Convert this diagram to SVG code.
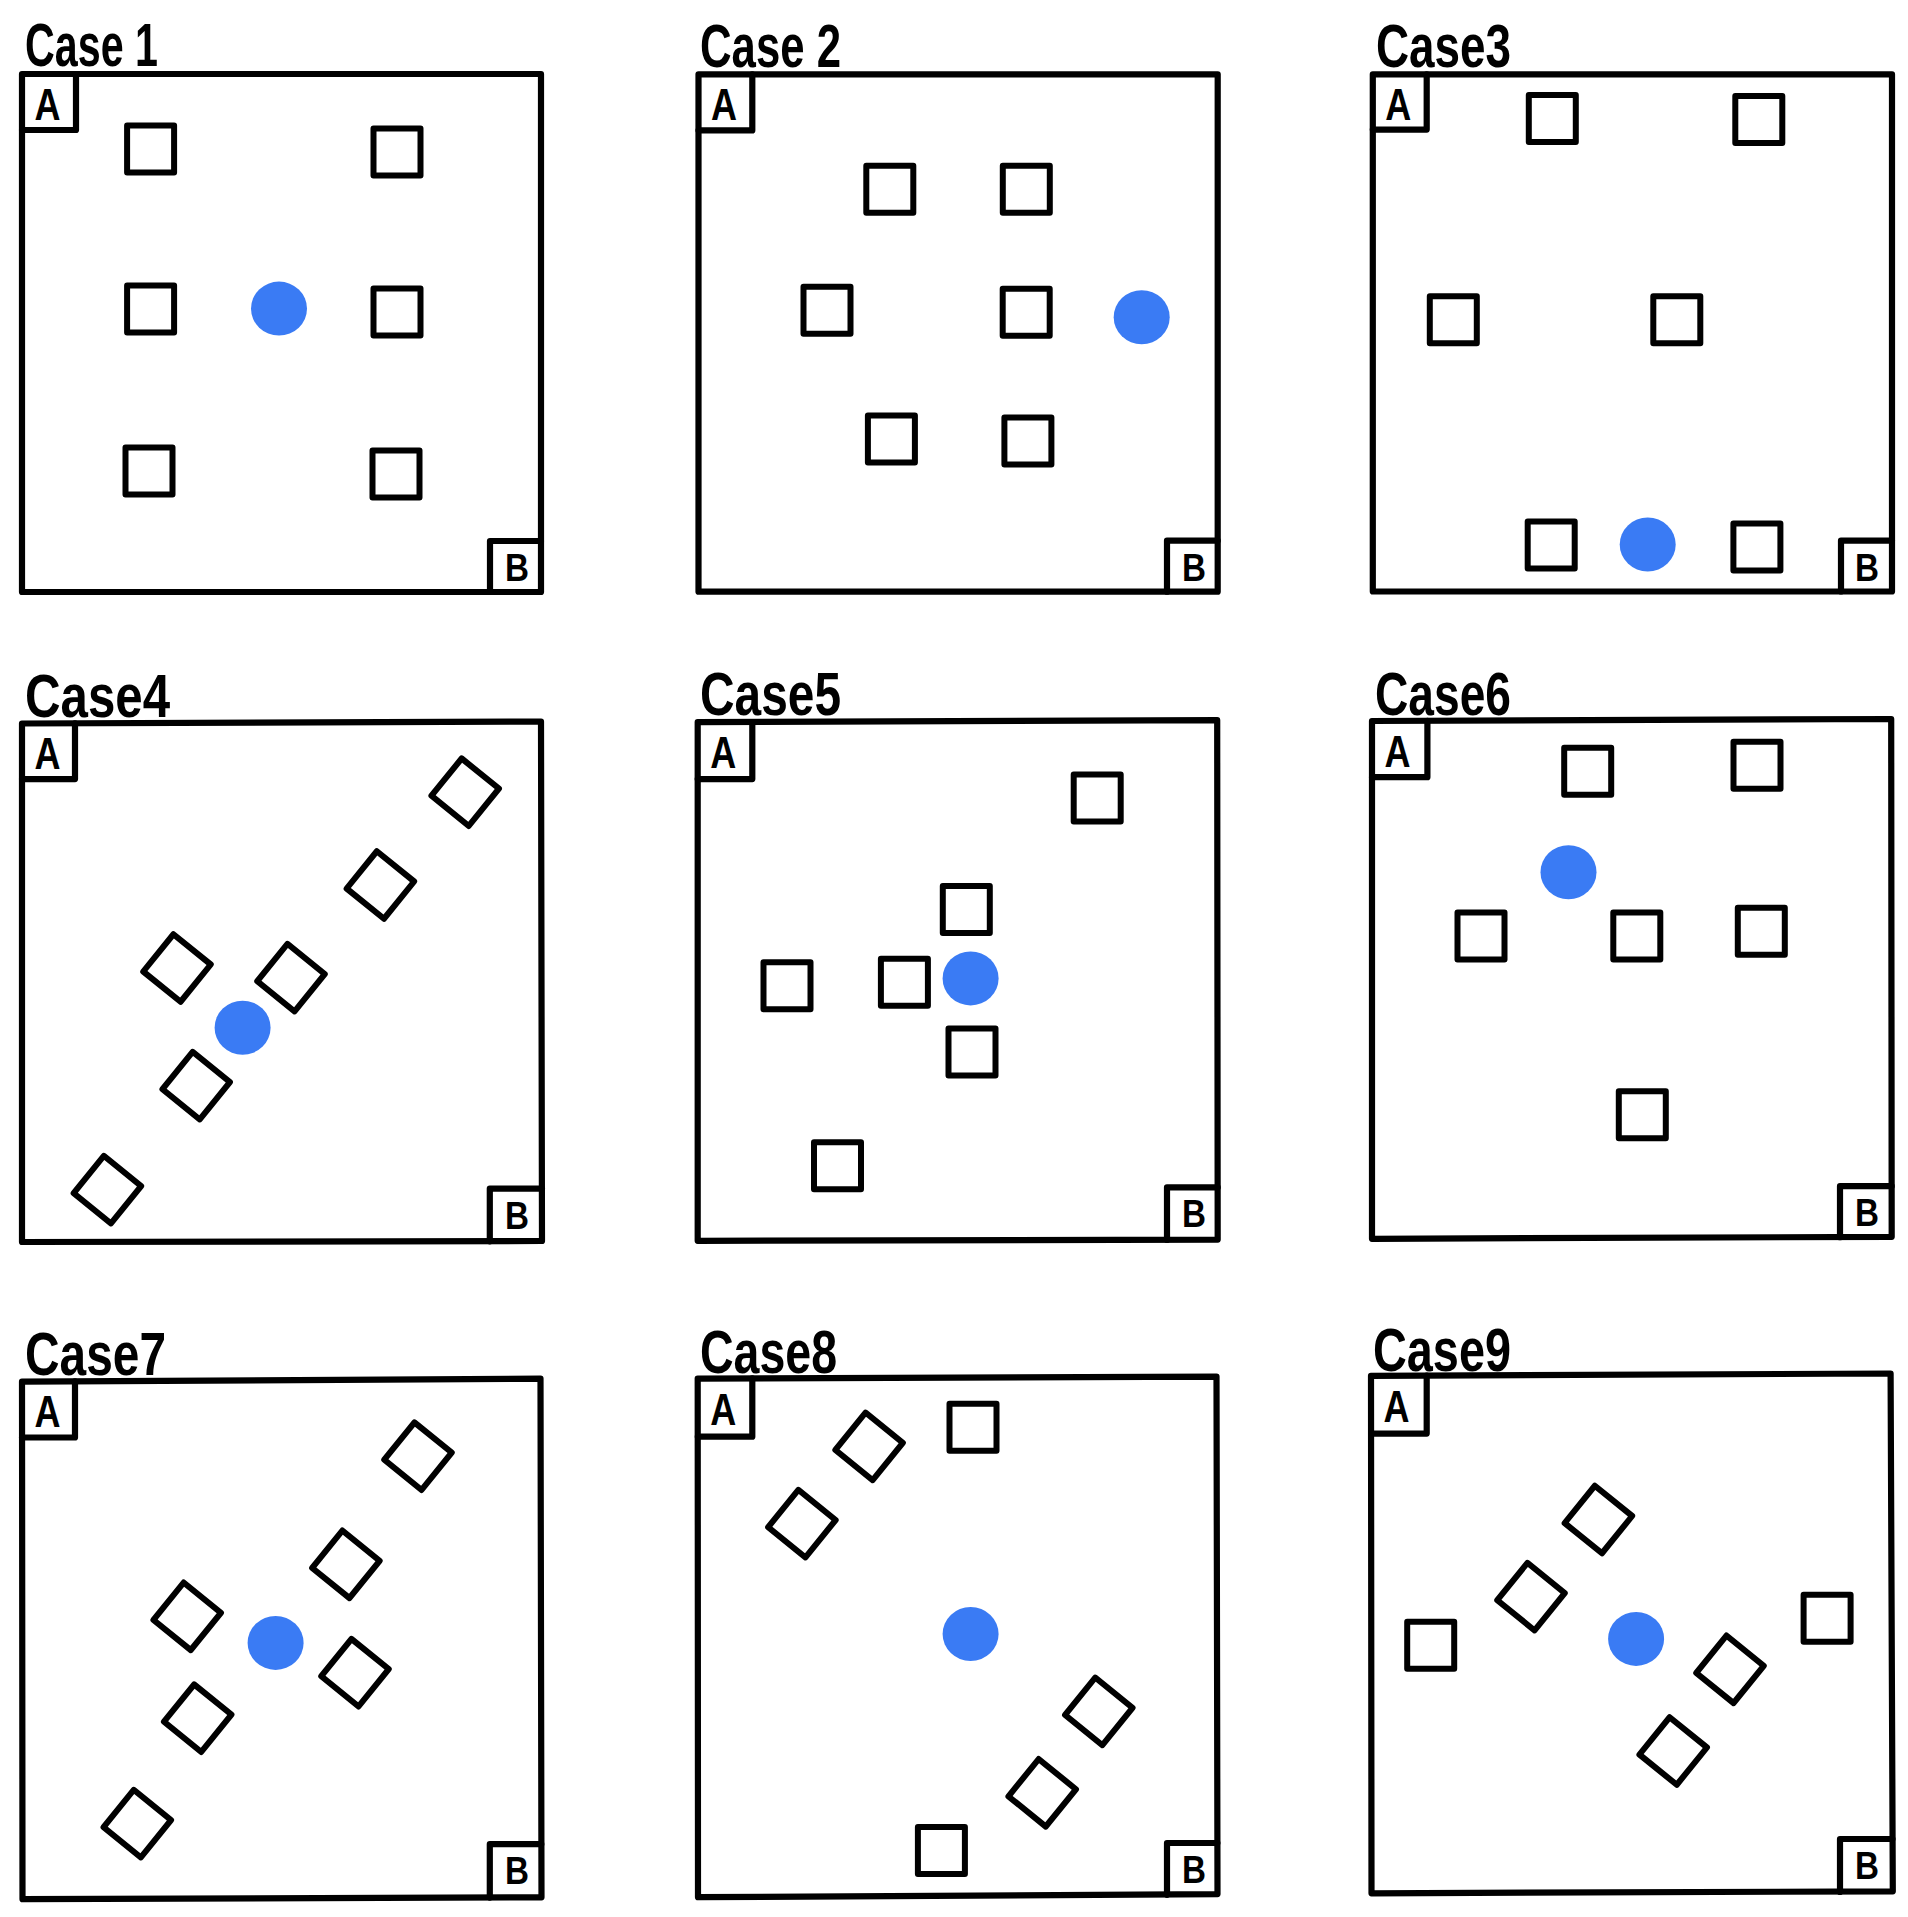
<svg xmlns="http://www.w3.org/2000/svg" width="1908" height="1917" viewBox="0 0 1908 1917">
<style>
.bg{fill:#fff}
.frame{fill:none;stroke:#000;stroke-width:6.2;stroke-linejoin:round;stroke-linecap:round}
.obj{fill:none;stroke:#000;stroke-width:6;stroke-linejoin:round}
.dot{fill:#3a7bf4}
.title{font-family:"Liberation Sans",Arial,sans-serif;font-weight:bold;font-size:62px;fill:#000}
.lbl{font-family:"Liberation Sans",Arial,sans-serif;font-weight:bold;fill:#000;text-anchor:middle}
.la{font-size:44px}
.lb{font-size:39px}
</style>
<defs>
<rect id="sq" class="obj" x="-23.5" y="-23.5" width="47" height="47"/>
<rect id="dm" class="obj" x="-24" y="-24" width="48" height="48" transform="rotate(39)"/>
<ellipse id="bl" class="dot" cx="0" cy="0" rx="28" ry="27"/>
</defs>
<rect class="bg" x="0" y="0" width="1908" height="1917"/>

<g id="case1">
<text class="title" x="25" y="66" textLength="133" lengthAdjust="spacingAndGlyphs">Case 1</text>
<polygon class="frame" points="22,74 541,74 541,592 22,592"/>
<path class="frame" d="M22,130 H76 V74"/>
<text class="lbl la" x="47.5" y="120" textLength="26" lengthAdjust="spacingAndGlyphs">A</text>
<path class="frame" d="M490,592 V541 H541"/>
<text class="lbl lb" x="517" y="581" textLength="24" lengthAdjust="spacingAndGlyphs">B</text>
<use href="#sq" x="150.6" y="149"/>
<use href="#sq" x="397" y="152"/>
<use href="#sq" x="150.6" y="309"/>
<use href="#sq" x="397" y="312"/>
<use href="#sq" x="149" y="471"/>
<use href="#sq" x="396" y="474"/>
<use href="#bl" x="279" y="308.6"/>
</g>

<g id="case2">
<text class="title" x="700" y="67" textLength="141" lengthAdjust="spacingAndGlyphs">Case 2</text>
<polygon class="frame" points="698.5,74.3 1217.7,74.3 1217.7,591.7 698.5,591.7"/>
<path class="frame" d="M698.5,130.4 H752.3 V74.3"/>
<text class="lbl la" x="724" y="120.3" textLength="26" lengthAdjust="spacingAndGlyphs">A</text>
<path class="frame" d="M1167,591.7 V540.7 H1217.7"/>
<text class="lbl lb" x="1194" y="580.7" textLength="24" lengthAdjust="spacingAndGlyphs">B</text>
<use href="#sq" x="889.8" y="189.3"/>
<use href="#sq" x="1026.3" y="189.3"/>
<use href="#sq" x="827" y="310.3"/>
<use href="#sq" x="1026.2" y="312.3"/>
<use href="#sq" x="891.4" y="439.1"/>
<use href="#sq" x="1027.9" y="441.1"/>
<use href="#bl" x="1141.7" y="317.2"/>
</g>

<g id="case3">
<text class="title" x="1376" y="67" textLength="135" lengthAdjust="spacingAndGlyphs">Case3</text>
<polygon class="frame" points="1372.8,74.3 1892,74.3 1892,591.5 1372.8,591.5"/>
<path class="frame" d="M1372.8,129.6 H1426.7 V74.3"/>
<text class="lbl la" x="1398.3" y="120.3" textLength="26" lengthAdjust="spacingAndGlyphs">A</text>
<path class="frame" d="M1841,591.5 V540.7 H1892"/>
<text class="lbl lb" x="1867" y="580.7" textLength="24" lengthAdjust="spacingAndGlyphs">B</text>
<use href="#sq" x="1552.3" y="118.6"/>
<use href="#sq" x="1758.8" y="119.6"/>
<use href="#sq" x="1453.3" y="319.8"/>
<use href="#sq" x="1676.8" y="319.8"/>
<use href="#sq" x="1551.2" y="545"/>
<use href="#sq" x="1756.9" y="547"/>
<use href="#bl" x="1647.7" y="544.5"/>
</g>

<g id="case4">
<text class="title" x="25" y="717" textLength="145" lengthAdjust="spacingAndGlyphs">Case4</text>
<polygon class="frame" points="22,723.5 541,721.5 542,1241 22,1242"/>
<path class="frame" d="M22,779.1 H75 V723.3"/>
<text class="lbl la" x="47.5" y="769.3" textLength="26" lengthAdjust="spacingAndGlyphs">A</text>
<path class="frame" d="M489.8,1241.3 V1188.6 H542"/>
<text class="lbl lb" x="517" y="1228.6" textLength="24" lengthAdjust="spacingAndGlyphs">B</text>
<use href="#dm" x="465.2" y="792.2"/>
<use href="#dm" x="380.4" y="885"/>
<use href="#dm" x="177" y="968"/>
<use href="#dm" x="291" y="977.6"/>
<use href="#dm" x="196.2" y="1085.6"/>
<use href="#dm" x="107.4" y="1189.6"/>
<use href="#bl" x="242.6" y="1027.7"/>
</g>

<g id="case5">
<text class="title" x="700" y="715" textLength="141" lengthAdjust="spacingAndGlyphs">Case5</text>
<polygon class="frame" points="697.7,722.2 1217.2,720.2 1217.7,1239.6 697.7,1240.8"/>
<path class="frame" d="M697.7,779.1 H752.3 V722"/>
<text class="lbl la" x="723.2" y="768.2" textLength="26" lengthAdjust="spacingAndGlyphs">A</text>
<path class="frame" d="M1167,1240 V1187.4 H1217.7"/>
<text class="lbl lb" x="1194" y="1227.4" textLength="24" lengthAdjust="spacingAndGlyphs">B</text>
<use href="#sq" x="1097.2" y="798.1"/>
<use href="#sq" x="966.3" y="909.5"/>
<use href="#sq" x="787" y="985.8"/>
<use href="#sq" x="904.4" y="982.3"/>
<use href="#sq" x="972" y="1052"/>
<use href="#sq" x="837.5" y="1165.7"/>
<use href="#bl" x="970.6" y="978.4"/>
</g>

<g id="case6">
<text class="title" x="1375" y="715" textLength="136" lengthAdjust="spacingAndGlyphs">Case6</text>
<polygon class="frame" points="1372,721 1891.2,719 1891.7,1236.8 1372,1238.8"/>
<path class="frame" d="M1372,777.2 H1427.4 V720.8"/>
<text class="lbl la" x="1397.5" y="766.5" textLength="26" lengthAdjust="spacingAndGlyphs">A</text>
<path class="frame" d="M1840,1237.2 V1186.2 H1891.7"/>
<text class="lbl lb" x="1867" y="1226.2" textLength="24" lengthAdjust="spacingAndGlyphs">B</text>
<use href="#sq" x="1587.7" y="771.2"/>
<use href="#sq" x="1757" y="765.3"/>
<use href="#sq" x="1481" y="936"/>
<use href="#sq" x="1636.8" y="936"/>
<use href="#sq" x="1761.3" y="931.3"/>
<use href="#sq" x="1642.3" y="1114.7"/>
<use href="#bl" x="1568.5" y="872.2"/>
</g>

<g id="case7">
<text class="title" x="25" y="1374.7" textLength="141" lengthAdjust="spacingAndGlyphs">Case7</text>
<polygon class="frame" points="22,1381.7 540.5,1378.6 541.5,1897.3 22.5,1899.2"/>
<path class="frame" d="M22,1437.5 H75 V1381.4"/>
<text class="lbl la" x="47.5" y="1427.3" textLength="26" lengthAdjust="spacingAndGlyphs">A</text>
<path class="frame" d="M489.8,1897.6 V1844.2 H541.3"/>
<text class="lbl lb" x="517" y="1884.2" textLength="24" lengthAdjust="spacingAndGlyphs">B</text>
<use href="#dm" x="418" y="1456.2"/>
<use href="#dm" x="345.9" y="1564.3"/>
<use href="#dm" x="187.2" y="1616.3"/>
<use href="#dm" x="355" y="1672.7"/>
<use href="#dm" x="197.7" y="1718.2"/>
<use href="#dm" x="137.3" y="1823.6"/>
<use href="#bl" x="275.6" y="1642.9"/>
</g>

<g id="case8">
<text class="title" x="700" y="1372.7" textLength="137" lengthAdjust="spacingAndGlyphs">Case8</text>
<polygon class="frame" points="697.7,1378.6 1216.5,1376.6 1217.5,1894.1 698,1897.2"/>
<path class="frame" d="M697.8,1436.7 H752.3 V1378.4"/>
<text class="lbl la" x="723.2" y="1424.5" textLength="26" lengthAdjust="spacingAndGlyphs">A</text>
<path class="frame" d="M1167,1894.8 V1843 H1217.4"/>
<text class="lbl lb" x="1194" y="1883" textLength="24" lengthAdjust="spacingAndGlyphs">B</text>
<use href="#sq" x="973" y="1427.2"/>
<use href="#sq" x="941.4" y="1850.5"/>
<use href="#dm" x="869.1" y="1446.4"/>
<use href="#dm" x="801.9" y="1523.6"/>
<use href="#dm" x="1098.8" y="1711.4"/>
<use href="#dm" x="1042.2" y="1792.8"/>
<use href="#bl" x="970.6" y="1634"/>
</g>

<g id="case9">
<text class="title" x="1373" y="1370.7" textLength="138" lengthAdjust="spacingAndGlyphs">Case9</text>
<polygon class="frame" points="1371,1375.8 1890.6,1373.5 1892.8,1891.3 1371.5,1893.3"/>
<path class="frame" d="M1371.2,1433.6 H1426.7 V1375.5"/>
<text class="lbl la" x="1396.5" y="1421.8" textLength="26" lengthAdjust="spacingAndGlyphs">A</text>
<path class="frame" d="M1840,1892 V1839 H1892.5"/>
<text class="lbl lb" x="1867" y="1879" textLength="24" lengthAdjust="spacingAndGlyphs">B</text>
<use href="#sq" x="1430.7" y="1645.3"/>
<use href="#sq" x="1827.1" y="1618.3"/>
<use href="#dm" x="1598.4" y="1519.5"/>
<use href="#dm" x="1531" y="1596.6"/>
<use href="#dm" x="1730" y="1669.3"/>
<use href="#dm" x="1673.2" y="1751"/>
<use href="#bl" x="1636.1" y="1638.9"/>
</g>
</svg>
